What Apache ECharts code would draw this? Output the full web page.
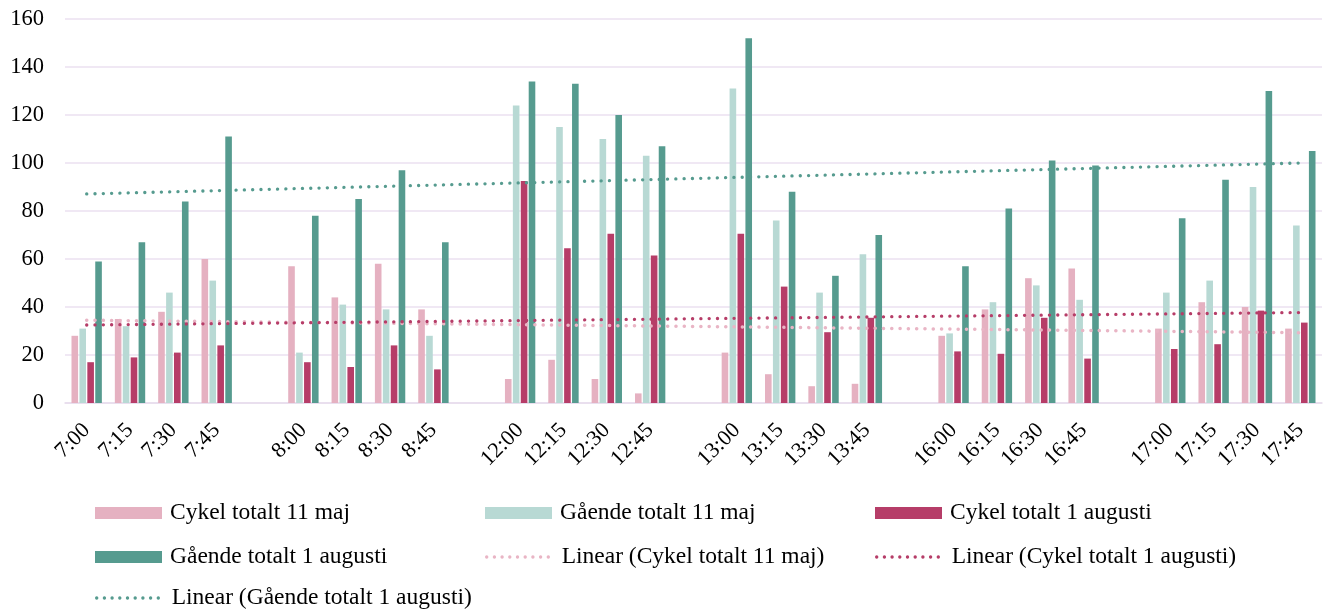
<!DOCTYPE html>
<html><head><meta charset="utf-8">
<script src="https://cdn.jsdelivr.net/npm/echarts@6/dist/echarts.min.js"></script>
<style>html,body{margin:0;padding:0;background:#fff}#c{width:1323px;height:611px}</style>
</head><body><div id="c"></div><script>
const categories = ['7:00','7:15','7:30','7:45','',
  '8:00','8:15','8:30','8:45','',
  '12:00','12:15','12:30','12:45','',
  '13:00','13:15','13:30','13:45','',
  '16:00','16:15','16:30','16:45','',
  '17:00','17:15','17:30','17:45'];
const cykelMaj   = [28,35,38,60,null, 57,44,58,39,null, 10,18,10,4,null, 21,12,7,8,null, 28,39,52,56,null, 31,42,40,31];
const gaendeMaj  = [31,32,46,51,null, 21,41,39,28,null, 124,115,110,103,null, 131,76,46,62,null, 29,42,49,43,null, 46,51,90,74];
const cykelAug   = [17,19,21,24,null, 17,15,24,14,null, 92.5,64.5,70.5,61.5,null, 70.5,48.5,29.5,35.5,null, 21.5,20.5,35.5,18.5,null, 22.5,24.5,38.5,33.5];
const gaendeAug  = [59,67,84,111,null, 78,85,97,67,null, 134,133,120,107,null, 152,88,53,70,null, 57,81,101,99,null, 77,93,130,105];
// trendline end values (first and last category)
const trendCykelMaj  = [34.5, 29.3];
const trendCykelAug  = [32.5, 37.7];
const trendGaendeAug = [87.1, 100.0];
const yTicks = [0,20,40,60,80,100,120,140,160];

const names = ['Cykel totalt 11 maj','Gående totalt 11 maj','Cykel totalt 1 augusti','Gående totalt 1 augusti',
  'Linear (Cykel totalt 11 maj)','Linear (Cykel totalt 1 augusti)','Linear (Gående totalt 1 augusti)'];
const colors = ['#E5B1C1','#B8D9D4','#B63D68','#569B8F'];
const FONT = '"Liberation Serif","Times New Roman",serif';

function trendArr(ends){
  const a = categories.map(()=>null);
  a[0] = ends[0]; a[a.length-1] = ends[1];
  return a;
}
function bar(name, data, color){
  return {name, type:'bar', data, barWidth:6.6, barGap:'20%', itemStyle:{color}, z:2};
}
function line(name, data, color, w){
  return {name, type:'line', data:trendArr(data), connectNulls:true, symbol:'none', z:5,
    lineStyle:{color, width:w, type:[0.1,8.2], cap:'round'}, itemStyle:{color}};
}
const legendPos = [[95,501],[485,501],[875,501],[95,545],[485,545],[875,545],[95,586]];
const legends = names.map((n,i)=>{
  const o = {
    data:[n], left:legendPos[i][0], top:legendPos[i][1], padding:0, itemGap:0,
    itemWidth:67, itemHeight:12,
    textStyle:{fontFamily:FONT, fontSize:23.5, color:'#000', padding:[0,0,0,3], lineHeight:24}
  };
  if (i<4) o.icon = 'rect';
  else { o.itemStyle = {opacity:0}; o.lineStyle = {type:[0.1,7.6], cap:'round', width:3.3}; }
  return o;
});

const chart = echarts.init(document.getElementById('c'), null, {renderer:'canvas'});
chart.setOption({
  animation:false,
  color:colors,
  grid:{left:65, right:1, top:19, bottom:208, containLabel:false},
  legend:legends,
  xAxis:{type:'category', data:categories, boundaryGap:true,
    axisLine:{lineStyle:{color:'#E6DBEC', width:1.5}}, axisTick:{show:false},
    axisLabel:{interval:0, rotate:45, margin:24, fontFamily:FONT, fontSize:22, color:'#000'}},
  yAxis:{type:'value', min:0, max:160, interval:20,
    axisLine:{show:false}, axisTick:{show:false},
    splitLine:{lineStyle:{color:'#EBE1F0', width:1.5}},
    axisLabel:{margin:21, fontFamily:FONT, fontSize:22.5, color:'#000',
      formatter:v=>yTicks.includes(v)?String(v):''}},
  series:[
    bar(names[0], cykelMaj, colors[0]),
    bar(names[1], gaendeMaj, colors[1]),
    bar(names[2], cykelAug, colors[2]),
    bar(names[3], gaendeAug, colors[3]),
    line(names[4], trendCykelMaj, '#E9B5C5', 3.5),
    line(names[5], trendCykelAug, '#B63D68', 3.3),
    line(names[6], trendGaendeAug, '#569B8F', 3.3)
  ]
});
</script></body></html>
